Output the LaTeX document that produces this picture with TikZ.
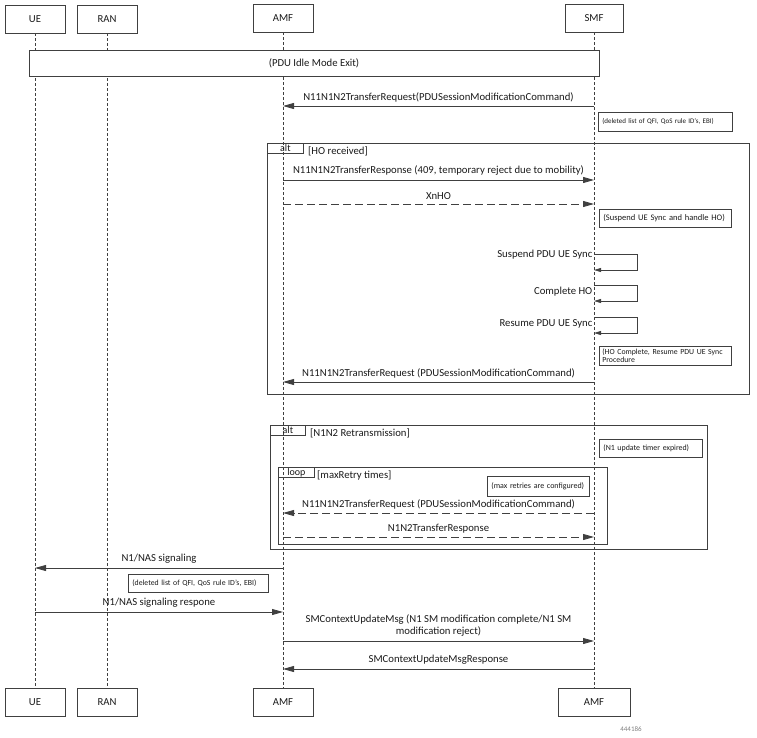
\documentclass[tikz,border=0pt]{standalone}
\usepackage{fontspec}
\setmainfont{Carlito}
\usepackage{xcolor}
\usetikzlibrary{arrows.meta, positioning}
\definecolor{linegray}{HTML}{404040}
\definecolor{txtgray}{HTML}{1A1A1A}

\begin{document}
\begin{tikzpicture}[x=1pt, y=-1pt, >={Triangle[length=11pt, width=6pt]},
    font=\fontsize{10.7}{12.5}\selectfont, text=txtgray]
    \tikzset{
        actor/.style={draw=linegray, line width=0.8pt, minimum width=60pt, minimum height=28pt, inner sep=0pt},
        lifeline/.style={draw=linegray, line width=0.7pt, dash pattern=on 3pt off 2pt},
        msg/.style={draw=linegray, line width=0.8pt, ->},
        reply/.style={msg, dash pattern=on 8pt off 4pt},
        selfmsg/.style={draw=linegray, line width=0.8pt, -{Triangle[length=7pt, width=4pt]}},
        note/.style={draw=linegray, line width=0.7pt, anchor=north west, align=left,
            inner xsep=4pt, inner ysep=2pt, font=\fontsize{8.5}{9}\selectfont},
        frame/.style={draw=linegray, line width=0.8pt},
        tab/.style={draw=linegray, line width=0.8pt, anchor=north west, inner sep=0pt,
            minimum height=10pt, font=\fontsize{10}{10}\selectfont},
        guard/.style={anchor=west, inner sep=0pt},
        selflabel/.style={anchor=east, inner sep=1.5pt}
    }
    \useasboundingbox (0,0) rectangle (757,737);

    % participants
    \node[actor] (ueT) at (35,19) {UE};
    \node[actor] (ranT) at (107,19) {RAN};
    \node[actor] (amfT) at (283,18) {AMF};
    \node[actor, minimum width=58pt] (smfT) at (594,18) {SMF};

    \node[actor] (ueB) at (35,702) {UE};
    \node[actor] (ranB) at (107,702) {RAN};
    \node[actor] (amfB) at (283,702) {AMF};
    \node[actor, minimum width=72pt] (smfB) at (594,702) {AMF};

    \draw[lifeline] (ueT) -- (ueB);
    \draw[lifeline] (ranT) -- (ranB);
    \draw[lifeline] (amfT) -- (amfB);
    \draw[lifeline] (smfT) -- (smfB);

    % idle mode exit
    \node[draw=linegray, line width=0.8pt, fill=white, minimum width=570pt, minimum height=26pt]
        (idle) at (314,63) {(PDU Idle Mode Exit)};

    % rows
    \coordinate (r1) at (0,106);
    \coordinate (r2) at (0,180);
    \coordinate (r3) at (0,204);
    \coordinate (r4) at (0,382);
    \coordinate (r5) at (0,513);
    \coordinate (r6) at (0,537);
    \coordinate (r7) at (0,568);
    \coordinate (r8) at (0,612);
    \coordinate (r9) at (0,641);
    \coordinate (r10) at (0,669);

    \draw[msg] (smfT |- r1) -- (amfT |- r1)
        node[midway, above=0.5pt] {N11N1N2TransferRequest(PDUSessionModificationCommand)};
    \node[note, text width=126pt, minimum height=19pt, font=\fontsize{7}{8}\selectfont] (delNote) at (598,112)
        {(deleted list of QFI, QoS rule ID's, EBI)};

    % alt: HO received
    \draw[frame] (267,143) rectangle (749,394);
    \node[tab, minimum width=36pt] (altHO) at (267,143) {alt};
    \node[guard] (hoGuard) at (308,151) {[HO received]};

    \draw[msg] (amfT |- r2) -- (smfT |- r2)
        node[midway, above=0.5pt] {N11N1N2TransferResponse (409, temporary reject due to mobility)};
    \draw[reply] (amfT |- r3) -- (smfT |- r3)
        node[midway, above=0.5pt] {XnHO};
    \node[note, text width=124pt, minimum height=18pt] (hoNote) at (599,209)
        {(Suspend UE Sync and handle HO)};

    \coordinate (s1) at (0,254);
    \coordinate (s2) at (0,285);
    \coordinate (s3) at (0,317);
    \draw[selfmsg] (smfT |- s1) -- ++(43,0) -- ++(0,16) -- ++(-43,0);
    \node[selflabel] (suspLbl) at ([yshift=-1pt]smfT |- s1) {Suspend PDU UE Sync};
    \draw[selfmsg] (smfT |- s2) -- ++(43,0) -- ++(0,16) -- ++(-43,0);
    \node[selflabel] (compLbl) at ([yshift=-7pt]smfT |- s2) {Complete HO};
    \draw[selfmsg] (smfT |- s3) -- ++(43,0) -- ++(0,16) -- ++(-43,0);
    \node[selflabel] (resLbl) at ([yshift=-7pt]smfT |- s3) {Resume PDU UE Sync};

    \node[note, text width=126pt, minimum height=19pt, inner xsep=3pt, font=\fontsize{7.8}{8.5}\selectfont] (resNote) at (599,346)
        {(HO Complete, Resume PDU UE Sync\\Procedure};
    \draw[msg] (smfT |- r4) -- (amfT |- r4)
        node[midway, above=0.5pt] {N11N1N2TransferRequest (PDUSessionModificationCommand)};

    % alt: N1N2 retransmission
    \draw[frame] (270,425) rectangle (707,549);
    \node[tab, minimum width=35pt] (altRe) at (270,425) {alt};
    \node[guard] (reGuard) at (310,433) {[N1N2 Retransmission]};
    \node[note, text width=95pt, minimum height=18pt, font=\fontsize{7.9}{9}\selectfont] (timerNote) at (599,439)
        {(N1 update timer expired)};

    \draw[frame] (278,467) rectangle (607,544);
    \node[tab, minimum width=36pt] (loopTab) at (278,467) {loop};
    \node[guard] (loopGuard) at (317,475) {[maxRetry times]};
    \node[note, text width=94pt, minimum height=20pt, font=\fontsize{8}{9}\selectfont] (retryNote) at (487,476)
        {(max retries are configured)};

    \draw[reply] (smfT |- r5) -- (amfT |- r5)
        node[midway, above=0.5pt] {N11N1N2TransferRequest (PDUSessionModificationCommand)};
    \draw[reply] (amfT |- r6) -- (smfT |- r6)
        node[midway, above=0.5pt] {N1N2TransferResponse};

    % NAS signalling
    \draw[msg] (amfT |- r7) -- (ueT |- r7)
        node[midway, above=0.5pt] {N1/NAS signaling};
    \node[note, text width=132pt, minimum height=18pt, font=\fontsize{7.8}{9}\selectfont] (nasNote) at (128,574)
        {(deleted list of QFI, QoS rule ID's, EBI)};
    \draw[msg] (ueT |- r8) -- (amfT |- r8)
        node[midway, above=0.5pt] {N1/NAS signaling respone};

    \draw[msg] (amfT |- r9) -- (smfT |- r9)
        node[midway, above=0.5pt, align=center] {SMContextUpdateMsg (N1 SM modification complete/N1 SM\\modification reject)};
    \draw[msg] (smfT |- r10) -- (amfT |- r10)
        node[midway, above=0.5pt] {SMContextUpdateMsgResponse};

    \node[font=\fontsize{7}{8}\selectfont, text=gray] (figId) at (631,729) {444186};
\end{tikzpicture}
\end{document}
